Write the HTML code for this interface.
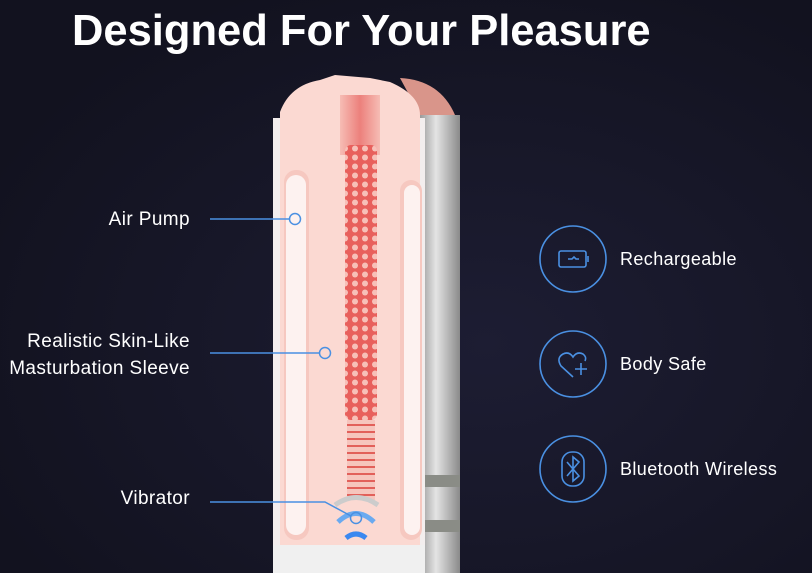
<!DOCTYPE html>
<html><head><style>
body{margin:0;width:812px;height:573px;overflow:hidden;background:radial-gradient(ellipse at 60% 60%,#1d1d33,#12121f 80%);font-family:"Liberation Sans",sans-serif;}
svg{position:absolute;left:0;top:0}
</style></head><body>
<svg width="812" height="573" viewBox="0 0 812 573">
<defs>
<linearGradient id="gr" x1="0" x2="1"><stop offset="0" stop-color="#9a9a9a"/><stop offset=".4" stop-color="#e4e4e4"/><stop offset="1" stop-color="#8a8a8a"/></linearGradient>
<linearGradient id="core" x1="0" x2="1"><stop offset="0" stop-color="#f4b0a8"/><stop offset=".5" stop-color="#e65a57"/><stop offset="1" stop-color="#f4b0a8"/></linearGradient>
<pattern id="dots" width="10" height="9" patternUnits="userSpaceOnUse"><rect width="10" height="9" fill="#e8605c"/><circle cx="5" cy="4.5" r="3" fill="#f7c0b8"/></pattern>
<pattern id="ribs" width="10" height="7" patternUnits="userSpaceOnUse"><rect width="10" height="7" fill="#f6c5bd"/><rect y="4" width="10" height="2" fill="#e2605a"/></pattern>
</defs>
<text x="72" y="45" fill="#fff" font-size="43.5" font-weight="bold">Designed For Your Pleasure</text>
<rect x="420" y="115" width="40" height="458" fill="url(#gr)"/>
<rect x="423" y="475" width="37" height="12" fill="#8a8c86"/>
<rect x="423" y="520" width="37" height="12" fill="#8a8c86"/>
<path d="M400 78 Q440 80 455 115 L420 115Z" fill="#d9958a"/>
<rect x="273" y="118" width="152" height="455" fill="#f3eeee"/>
<path d="M280 112 Q290 85 320 80 L335 75 L370 78 L390 82 Q420 95 420 115 L420 545 L280 545Z" fill="#fbd9d2"/>
<rect x="284" y="170" width="25" height="370" rx="12" fill="#f6c8c0"/>
<rect x="286" y="175" width="20" height="360" rx="10" fill="#fdf2f0"/>
<rect x="400" y="180" width="22" height="360" rx="11" fill="#f6c8c0"/>
<rect x="404" y="185" width="16" height="350" rx="8" fill="#fdf2f0"/>
<rect x="340" y="95" width="40" height="60" fill="url(#core)" opacity=".7"/>
<rect x="345" y="145" width="32" height="275" rx="6" fill="url(#dots)"/>
<rect x="347" y="420" width="28" height="80" fill="url(#ribs)"/>
<path d="M335 505 Q356 490 378 505" stroke="#ccc" stroke-width="5" fill="none"/>
<path d="M338 522 Q356 505 374 522" stroke="#6aaaf0" stroke-width="5" fill="none"/>
<path d="M346 538 Q356 530 366 538" stroke="#3a88f0" stroke-width="5" fill="none"/>
<rect x="273" y="545" width="152" height="28" fill="#f0f0f0"/>
<g stroke="#4a90e2" stroke-width="1.5" fill="none">
<line x1="210" y1="219" x2="290" y2="219"/><circle cx="295" cy="219" r="5.5"/>
<line x1="210" y1="353" x2="320" y2="353"/><circle cx="325" cy="353" r="5.5"/>
<polyline points="210,502 325,502 351,516"/><circle cx="356" cy="518" r="5.5"/>
</g>
<g fill="#fff" font-size="19" letter-spacing="0.4" text-anchor="end">
<text x="190" y="225">Air Pump</text>
<text x="190" y="347">Realistic Skin-Like</text>
<text x="190" y="374">Masturbation Sleeve</text>
<text x="190" y="504">Vibrator</text>
</g>
<g stroke="#4a90e2" stroke-width="1.6" fill="none">
<circle cx="573" cy="259" r="33"/><circle cx="573" cy="364" r="33"/><circle cx="573" cy="469" r="33"/>
<rect x="559" y="251" width="27" height="16" rx="2"/><line x1="588" y1="256" x2="588" y2="262"/>
<path d="M568 259 h4 l2 -2 l2 2 h3"/>
<path d="M573 377 L561 366 Q556 358 563 354 Q569 351 573 357 Q577 351 583 354 Q587 357 585 361"/>
<path d="M581 363 v12 M575 369 h12"/>
<rect x="562" y="452" width="22" height="34" rx="10"/>
<path d="M567 462 L579 476 L573 481 V457 L579 462 L567 476"/>
</g>
<g fill="#fff" font-size="18" letter-spacing="0.4">
<text x="620" y="265">Rechargeable</text>
<text x="620" y="370">Body Safe</text>
<text x="620" y="475">Bluetooth Wireless</text>
</g>
</svg>
</body></html>
